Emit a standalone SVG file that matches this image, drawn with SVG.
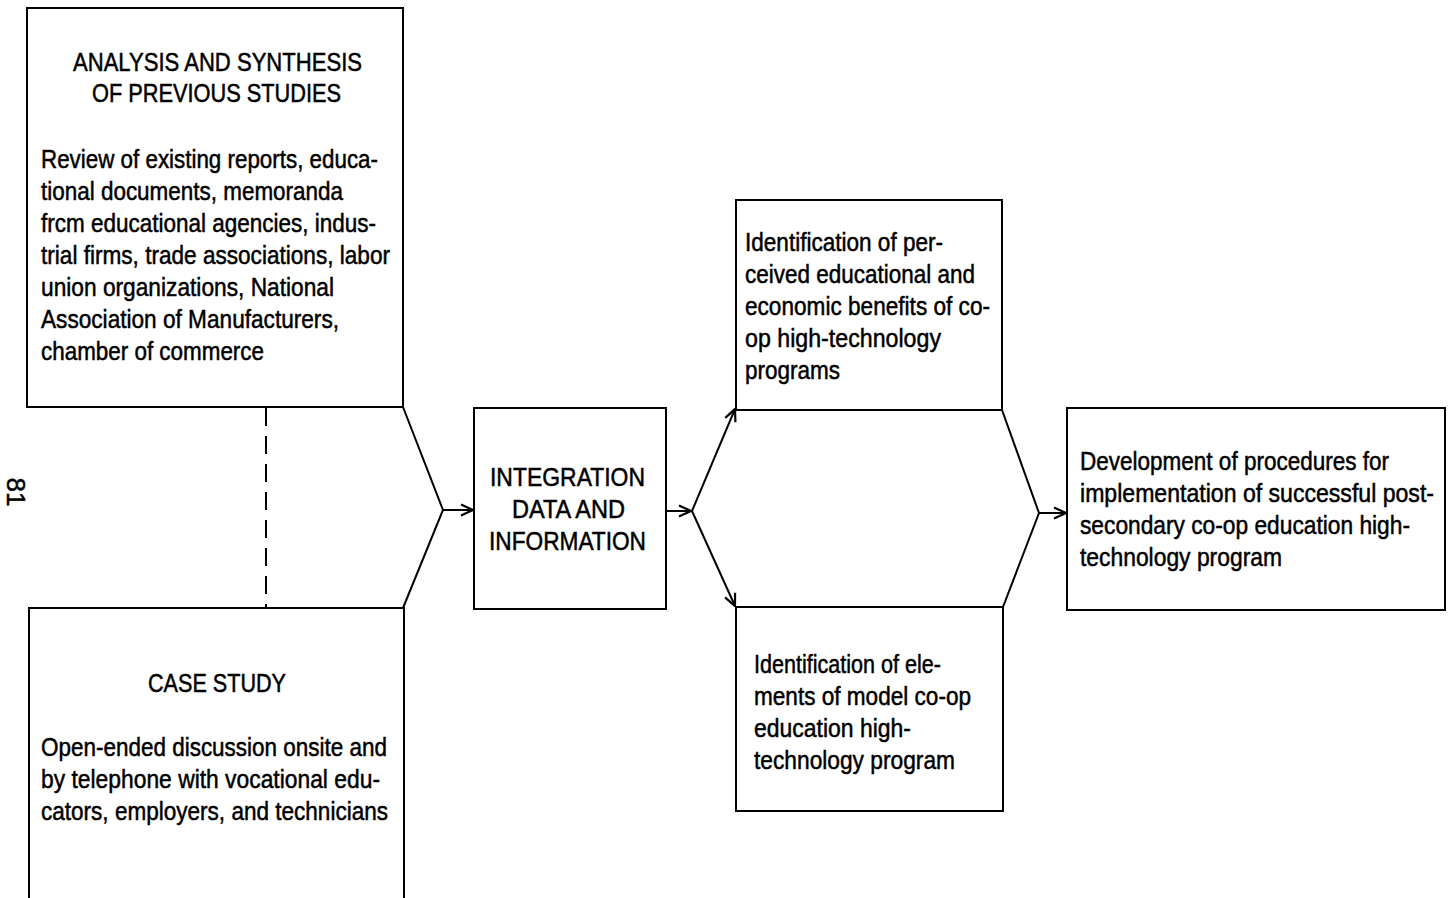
<svg xmlns="http://www.w3.org/2000/svg" width="1448" height="898" viewBox="0 0 1448 898">
<style>
.box{fill:none;stroke:#000;stroke-width:2}
.ln{fill:none;stroke:#000;stroke-width:2}
.t{font-family:"Liberation Sans",Arial,sans-serif;font-size:26px;fill:#000;stroke:#000;stroke-width:0.5}
</style>
<defs>
<marker id="ah" viewBox="0 0 14 14" refX="13" refY="7" markerWidth="14" markerHeight="14" markerUnits="userSpaceOnUse" orient="auto">
<path d="M1,1.5 L13,7 L1,12.5" fill="none" stroke="#000" stroke-width="2.2"/>
</marker>
</defs>
<rect width="1448" height="898" fill="#fff"/>
<text class="t" font-size="23" text-anchor="middle" transform="translate(7,492) rotate(90)" x="0" y="0">81</text>
<g id="analysis">
<rect class="box" x="27" y="8" width="376" height="399"/>
<text class="t" x="73" y="71" textLength="289" lengthAdjust="spacingAndGlyphs">ANALYSIS AND SYNTHESIS</text>
<text class="t" x="92" y="102" textLength="249" lengthAdjust="spacingAndGlyphs">OF PREVIOUS STUDIES</text>
<text class="t" x="41" y="168" textLength="337" lengthAdjust="spacingAndGlyphs">Review of existing reports, educa-</text>
<text class="t" x="41" y="200" textLength="302" lengthAdjust="spacingAndGlyphs">tional documents, memoranda</text>
<text class="t" x="41" y="232" textLength="335" lengthAdjust="spacingAndGlyphs">frcm educational agencies, indus-</text>
<text class="t" x="41" y="264" textLength="349" lengthAdjust="spacingAndGlyphs">trial firms, trade associations, labor</text>
<text class="t" x="41" y="296" textLength="293" lengthAdjust="spacingAndGlyphs">union organizations, National</text>
<text class="t" x="41" y="328" textLength="298" lengthAdjust="spacingAndGlyphs">Association of Manufacturers,</text>
<text class="t" x="41" y="360" textLength="223" lengthAdjust="spacingAndGlyphs">chamber of commerce</text>
</g>
<g id="case-study">
<path class="box" d="M29,898 V608 H404 V898"/>
<text class="t" x="148" y="692" textLength="138" lengthAdjust="spacingAndGlyphs">CASE STUDY</text>
<text class="t" x="41" y="756" textLength="346" lengthAdjust="spacingAndGlyphs">Open-ended discussion onsite and</text>
<text class="t" x="41" y="788" textLength="339" lengthAdjust="spacingAndGlyphs">by telephone with vocational edu-</text>
<text class="t" x="41" y="820" textLength="347" lengthAdjust="spacingAndGlyphs">cators, employers, and technicians</text>
</g>
<g id="integration">
<rect class="box" x="474" y="408" width="192" height="201"/>
<text class="t" x="490" y="486" textLength="155" lengthAdjust="spacingAndGlyphs">INTEGRATION</text>
<text class="t" x="512" y="518" textLength="113" lengthAdjust="spacingAndGlyphs">DATA AND</text>
<text class="t" x="489" y="550" textLength="157" lengthAdjust="spacingAndGlyphs">INFORMATION</text>
</g>
<g id="benefits">
<rect class="box" x="736" y="200" width="266" height="210"/>
<text class="t" x="745" y="251" textLength="198" lengthAdjust="spacingAndGlyphs">Identification of per-</text>
<text class="t" x="745" y="283" textLength="230" lengthAdjust="spacingAndGlyphs">ceived educational and</text>
<text class="t" x="745" y="315" textLength="245" lengthAdjust="spacingAndGlyphs">economic benefits of co-</text>
<text class="t" x="745" y="347" textLength="196" lengthAdjust="spacingAndGlyphs">op high-technology</text>
<text class="t" x="745" y="379" textLength="95" lengthAdjust="spacingAndGlyphs">programs</text>
</g>
<g id="elements">
<rect class="box" x="736" y="607" width="267" height="204"/>
<text class="t" x="754" y="673" textLength="187" lengthAdjust="spacingAndGlyphs">Identification of ele-</text>
<text class="t" x="754" y="705" textLength="217" lengthAdjust="spacingAndGlyphs">ments of model co-op</text>
<text class="t" x="754" y="737" textLength="157" lengthAdjust="spacingAndGlyphs">education high-</text>
<text class="t" x="754" y="769" textLength="201" lengthAdjust="spacingAndGlyphs">technology program</text>
</g>
<g id="development">
<rect class="box" x="1067" y="408" width="378" height="202"/>
<text class="t" x="1080" y="470" textLength="309" lengthAdjust="spacingAndGlyphs">Development of procedures for</text>
<text class="t" x="1080" y="502" textLength="354" lengthAdjust="spacingAndGlyphs">implementation of successful post-</text>
<text class="t" x="1080" y="534" textLength="330" lengthAdjust="spacingAndGlyphs">secondary co-op education high-</text>
<text class="t" x="1080" y="566" textLength="202" lengthAdjust="spacingAndGlyphs">technology program</text>
</g>
<g id="connectors">
<line class="ln" x1="266" y1="408" x2="266" y2="607" stroke-dasharray="18 10"/>
<polyline class="ln" points="403,407 443,510 403,608"/>
<line class="ln" x1="443" y1="510" x2="473" y2="510" marker-end="url(#ah)"/>
<line class="ln" x1="666" y1="511" x2="691" y2="511" marker-end="url(#ah)"/>
<line class="ln" x1="692" y1="511" x2="735" y2="409" marker-end="url(#ah)"/>
<line class="ln" x1="692" y1="511" x2="735" y2="606" marker-end="url(#ah)"/>
<polyline class="ln" points="1002,410 1039,513 1003,607"/>
<line class="ln" x1="1039" y1="513" x2="1066" y2="513" marker-end="url(#ah)"/>
</g>
</svg>
